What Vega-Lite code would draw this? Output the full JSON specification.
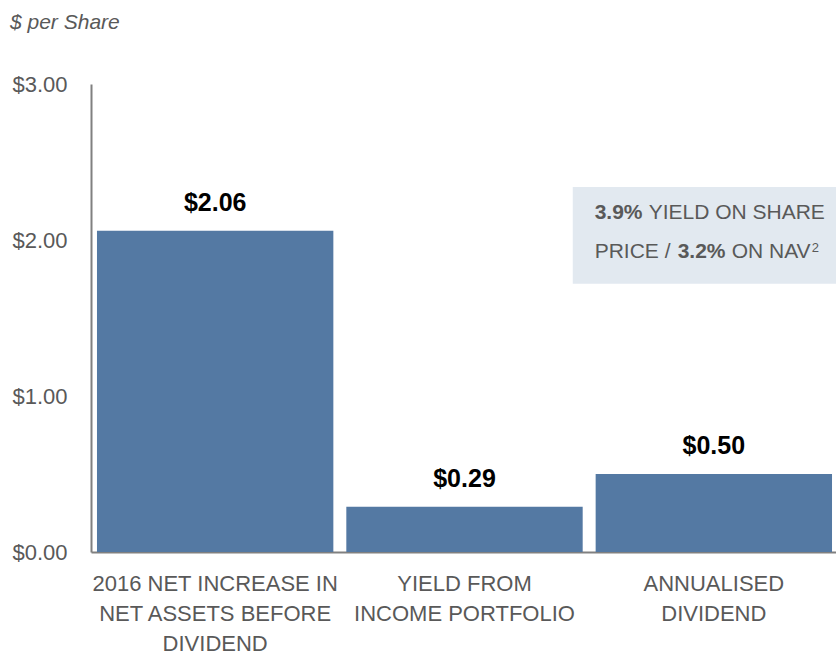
{
  "$schema": "https://vega.github.io/schema/vega-lite/v6.json",
  "autosize": {"type": "none"},
  "padding": {"left": 91, "top": 84, "right": 0, "bottom": 108},
  "width": 747,
  "height": 468,
  "config": {
    "view": {"stroke": null},
    "font": "Liberation Sans",
    "text": {"font": "Liberation Sans"}
  },
  "title": {
    "text": "$ per Share",
    "anchor": "start",
    "frame": "group",
    "dx": -81,
    "offset": 40,
    "font": "Liberation Sans",
    "fontSize": 21,
    "fontStyle": "italic",
    "fontWeight": "normal",
    "color": "#595959"
  },
  "datasets": {
    "bars": [
      {"category": "2016 NET INCREASE IN|NET ASSETS BEFORE|DIVIDEND", "value": 2.06, "label": "$2.06"},
      {"category": "YIELD FROM|INCOME PORTFOLIO", "value": 0.29, "label": "$0.29"},
      {"category": "ANNUALISED|DIVIDEND", "value": 0.50, "label": "$0.50"}
    ]
  },
  "data": {"name": "bars"},
  "layer": [
    {
      "mark": {"type": "bar", "color": "#5479a3"},
      "encoding": {
        "x": {
          "field": "category", "type": "nominal", "sort": null,
          "scale": {"paddingInner": 0.052, "paddingOuter": 0.024},
          "axis": {
            "title": null,
            "labelAngle": 0,
            "labelExpr": "split(datum.label, '|')",
            "labelFont": "Liberation Sans",
            "labelFontSize": 22,
            "labelColor": "#595959",
            "labelLineHeight": 30,
            "labelPadding": 21,
            "ticks": false,
            "domainColor": "#808080",
            "domainWidth": 2,
            "labelLimit": 400
          }
        },
        "y": {
          "field": "value", "type": "quantitative",
          "scale": {"domain": [0, 3], "nice": false},
          "axis": {
            "title": null,
            "values": [0, 1, 2, 3],
            "format": "$.2f",
            "grid": false,
            "ticks": false,
            "labelFont": "Liberation Sans",
            "labelFontSize": 22,
            "labelColor": "#595959",
            "labelPadding": 24,
            "domainColor": "#808080",
            "domainWidth": 2
          }
        }
      }
    },
    {
      "mark": {"type": "text", "fontSize": 25, "fontWeight": "bold", "color": "#000000", "baseline": "alphabetic", "dy": -20},
      "encoding": {
        "x": {"field": "category", "type": "nominal", "sort": null},
        "y": {"field": "value", "type": "quantitative"},
        "text": {"field": "label"}
      }
    },
    {
      "data": {"values": [{"y1": 2.34, "y2": 1.72}]},
      "mark": {"type": "rect", "color": "#e2e9f0"},
      "encoding": {
        "x": {"datum": "YIELD FROM|INCOME PORTFOLIO", "bandPosition": 0.958},
        "x2": {"datum": "ANNUALISED|DIVIDEND", "bandPosition": 1.02},
        "y": {"field": "y1", "type": "quantitative"},
        "y2": {"field": "y2"}
      }
    },
    {
      "data": {"values": [{"t": "3.9%", "yv": 2.173}]},
      "mark": {"type": "text", "align": "left", "baseline": "middle", "fontSize": 21, "fontWeight": "bold", "color": "#595959", "dx": -1},
      "encoding": {
        "x": {"datum": "ANNUALISED|DIVIDEND", "bandPosition": 0},
        "y": {"field": "yv", "type": "quantitative"},
        "text": {"field": "t"}
      }
    },
    {
      "data": {"values": [{"t": "YIELD ON SHARE", "yv": 2.173}]},
      "mark": {"type": "text", "align": "left", "baseline": "middle", "fontSize": 21, "fontWeight": "normal", "color": "#595959", "dx": 53},
      "encoding": {
        "x": {"datum": "ANNUALISED|DIVIDEND", "bandPosition": 0},
        "y": {"field": "yv", "type": "quantitative"},
        "text": {"field": "t"}
      }
    },
    {
      "data": {"values": [{"t": "PRICE /", "yv": 1.923}]},
      "mark": {"type": "text", "align": "left", "baseline": "middle", "fontSize": 21, "fontWeight": "normal", "color": "#595959", "dx": -1},
      "encoding": {
        "x": {"datum": "ANNUALISED|DIVIDEND", "bandPosition": 0},
        "y": {"field": "yv", "type": "quantitative"},
        "text": {"field": "t"}
      }
    },
    {
      "data": {"values": [{"t": "3.2%", "yv": 1.923}]},
      "mark": {"type": "text", "align": "left", "baseline": "middle", "fontSize": 21, "fontWeight": "bold", "color": "#595959", "dx": 82},
      "encoding": {
        "x": {"datum": "ANNUALISED|DIVIDEND", "bandPosition": 0},
        "y": {"field": "yv", "type": "quantitative"},
        "text": {"field": "t"}
      }
    },
    {
      "data": {"values": [{"t": "ON NAV", "yv": 1.923}]},
      "mark": {"type": "text", "align": "left", "baseline": "middle", "fontSize": 21, "fontWeight": "normal", "color": "#595959", "dx": 136},
      "encoding": {
        "x": {"datum": "ANNUALISED|DIVIDEND", "bandPosition": 0},
        "y": {"field": "yv", "type": "quantitative"},
        "text": {"field": "t"}
      }
    },
    {
      "data": {"values": [{"t": "2", "yv": 1.95}]},
      "mark": {"type": "text", "align": "left", "baseline": "middle", "fontSize": 13, "fontWeight": "normal", "color": "#595959", "dx": 216},
      "encoding": {
        "x": {"datum": "ANNUALISED|DIVIDEND", "bandPosition": 0},
        "y": {"field": "yv", "type": "quantitative"},
        "text": {"field": "t"}
      }
    }
  ]
}
